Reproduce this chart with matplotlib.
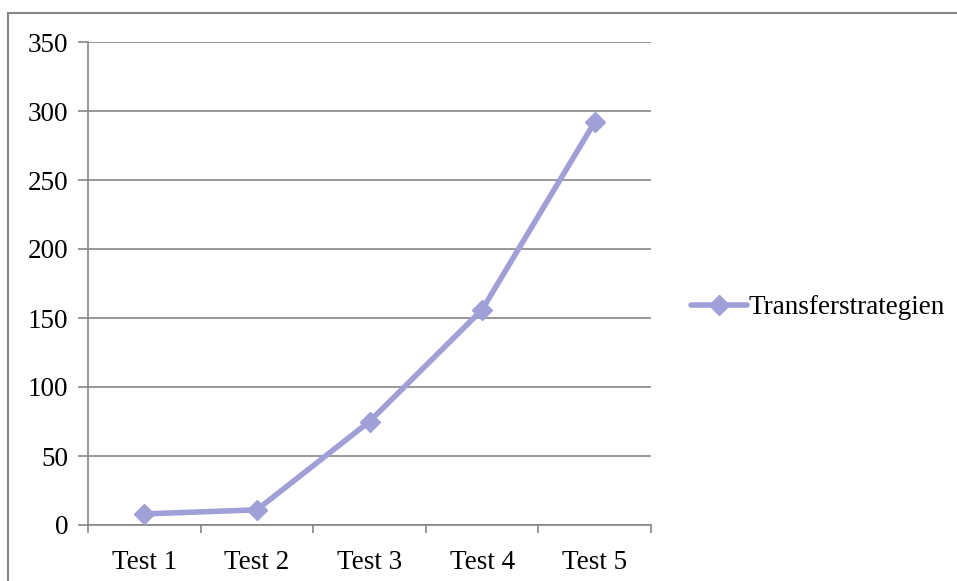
import numpy as np
import matplotlib.pyplot as plt
import matplotlib as mpl
from matplotlib.lines import Line2D

mpl.rcParams['font.family'] = 'Liberation Serif'
mpl.rcParams['font.size'] = 19.5

categories = ['Test 1', 'Test 2', 'Test 3', 'Test 4', 'Test 5']
values = [8, 11, 75, 156, 292]
series_name = 'Transferstrategien'

W, H = 957, 581
fig = plt.figure(figsize=(W / 100, H / 100), dpi=100)
ax = fig.add_axes([88 / W, 1 - 525 / H, (651 - 88) / W, (525 - 42) / H])

gray = '#868686'
col = '#a09fd6'

x = np.arange(len(categories))
ax.plot(x, values, color=col, lw=4, marker='D', ms=10, label=series_name,
        solid_capstyle='round', zorder=3)

ax.set_xlim(-0.5, len(categories) - 0.5)
ax.set_ylim(0, 350)
ax.set_yticks(np.arange(0, 351, 50))
ax.yaxis.grid(True, color=gray, lw=1.2)
ax.set_axisbelow(True)

ax.set_xticks(x)
ax.set_xticklabels(categories)
ax.set_xticks(np.arange(-0.5, len(categories), 1), minor=True)
ax.tick_params(axis='x', which='major', length=0, pad=18)
ax.tick_params(axis='x', which='minor', length=6, color=gray, width=1.2)
ax.tick_params(axis='y', length=7, color=gray, width=1.2, pad=7)

for s in ['top', 'right']:
    ax.spines[s].set_visible(False)
for s in ['left', 'bottom']:
    ax.spines[s].set_color(gray)
    ax.spines[s].set_linewidth(1.2)

ax.legend(loc='center left', bbox_to_anchor=(1.027, 0.45), frameon=False,
          handlelength=2.1, handletextpad=0.05)

# chart area border
fig.add_artist(Line2D([8 / W, 1], [1 - 12.5 / H, 1 - 12.5 / H], color=gray, lw=1.5))
fig.add_artist(Line2D([8 / W, 8 / W], [0, 1 - 12.5 / H], color=gray, lw=1.5))

fig.savefig('out.png', dpi=100)
